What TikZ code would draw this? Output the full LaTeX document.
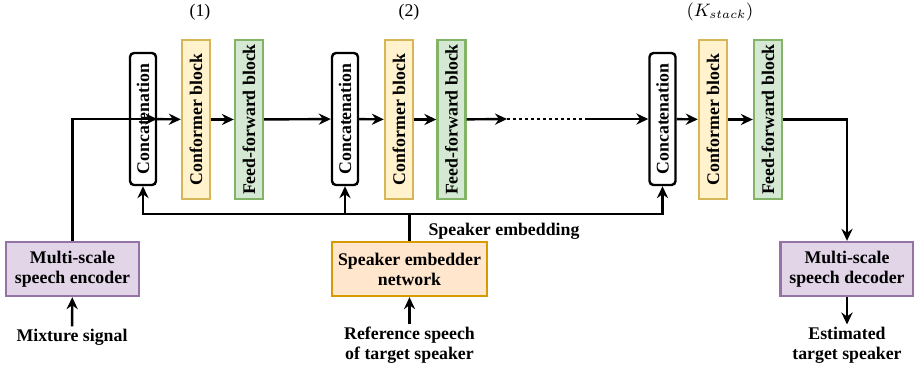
\documentclass[tikz,border=0pt]{standalone}
\usepackage{amsmath}
\usepackage{fontspec}
\setmainfont{Liberation Serif}
\usetikzlibrary{arrows.meta}
\definecolor{confFill}{HTML}{FFF2CC}
\definecolor{confDraw}{HTML}{D6B656}
\definecolor{ffFill}{HTML}{D5E8D4}
\definecolor{ffDraw}{HTML}{82B366}
\definecolor{codecFill}{HTML}{E1D5E7}
\definecolor{codecDraw}{HTML}{9673A6}
\definecolor{embFill}{HTML}{FFE6CC}
\definecolor{embDraw}{HTML}{D79B00}

\begin{document}
\begin{tikzpicture}[x=0.5pt,y=-0.5pt,
  every node/.style={font=\bfseries\fontsize{8.9}{10}\selectfont, inner sep=1pt},
  arr/.style={-{Stealth[length=6pt,width=5.6pt,inset=2pt]}, line width=1.2pt},
  catbox/.style={draw, line width=1.2pt, rounded corners=2pt, rotate=90,
    minimum width=66pt, minimum height=13pt, inner sep=0pt},
  confbox/.style={draw=confDraw, fill=confFill, line width=1.2pt, rotate=90,
    minimum width=79.5pt, minimum height=14pt, inner sep=0pt},
  ffbox/.style={draw=ffDraw, fill=ffFill, line width=1.2pt, rotate=90,
    minimum width=79.5pt, minimum height=14pt, inner sep=0pt},
  codec/.style={draw=codecDraw, fill=codecFill, line width=1.2pt, align=center,
    minimum width=66.5pt, minimum height=27pt},
  lbl/.style={font=\fontsize{8.9}{10}\selectfont}]
  \useasboundingbox (0,0) rectangle (914,371);
  \node[lbl] (n1) at (200,12) {(1)};
  \node[lbl] (n2) at (409,12) {(2)};
  \node[lbl] (nk) at (720,12) {$(K_{stack})$};
  \node[catbox] (cat1) at (143,119) {Concatenation};
  \node[confbox] (conf1) at (196,119.5) {Conformer block};
  \node[ffbox] (ff1) at (249,119.5) {Feed-forward block};
  \node[catbox] (cat2) at (345,119) {Concatenation};
  \node[confbox] (conf2) at (399,119.5) {Conformer block};
  \node[ffbox] (ff2) at (451.5,119.5) {Feed-forward block};
  \node[catbox] (cat3) at (662.5,119) {Concatenation};
  \node[confbox] (conf3) at (713,119.5) {Conformer block};
  \node[ffbox] (ff3) at (768,119.5) {Feed-forward block};
  \node[codec] (enc) at (72.5,269) {Multi-scale\\speech encoder};
  \node[draw=embDraw, fill=embFill, line width=1.2pt, align=center,
    minimum width=77.5pt, minimum height=27pt] (emb) at (409.5,269) {Speaker embedder\\network};
  \node[codec] (dec) at (847,269) {Multi-scale\\speech decoder};
  \node (mix) at (72,337) {Mixture signal};
  \node[align=center] (ref) at (409.5,345) {Reference speech\\of target speaker};
  \node[align=center] (est) at (847,345) {Estimated\\target speaker};
  \node (spklbl) at (504,231) {Speaker embedding};
  \coordinate (dotA) at (507,119);
  \coordinate (dotB) at (588,119);
  \coordinate (spk) at (409.5,214);
  \draw[arr] (enc.north) |- (cat1.south);
  \draw[arr] (cat1) -- (conf1);
  \draw[arr] (conf1) -- (ff1);
  \draw[arr] (ff1) -- (cat2);
  \draw[arr] (cat2) -- (conf2);
  \draw[arr] (conf2) -- (ff2);
  \draw[arr] (ff2) -- (dotA);
  \draw[line width=1.2pt, dash pattern=on 1.5pt off 1.5pt] (dotA) -- (dotB);
  \draw[arr] (dotB) -- (cat3);
  \draw[arr] (cat3) -- (conf3);
  \draw[arr] (conf3) -- (ff3);
  \draw[arr] (ff3.south) -| (dec.north);
  \draw[line width=1.2pt] (emb.north) -- (spk);
  \draw[arr] (spk) -| (cat1.west);
  \draw[arr] (spk) -| (cat3.west);
  \draw[arr] (cat2.west |- spk) -- (cat2.west);
  \draw[arr] (mix) -- (enc);
  \draw[arr] (ref) -- (emb);
  \draw[arr] (dec) -- (est);
\end{tikzpicture}
\end{document}
